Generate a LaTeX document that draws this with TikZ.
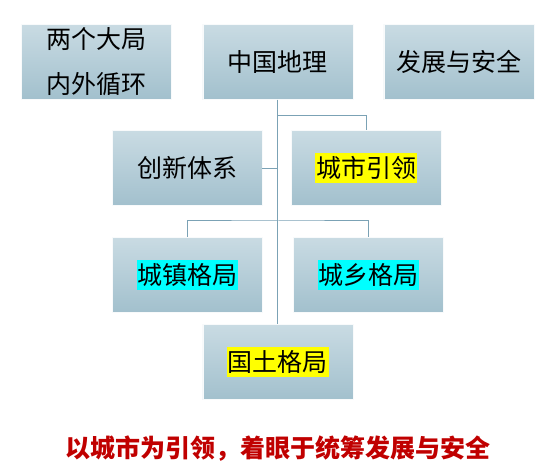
\documentclass[tikz,border=0pt]{standalone}
\usepackage{fontspec}
\newfontfamily\cjk{Noto Sans CJK SC}
\definecolor{boxtop}{HTML}{C9DBE3}
\definecolor{boxbot}{HTML}{A2C0CD}
\definecolor{conncol}{HTML}{7BA2B5}
\definecolor{titlered}{HTML}{C00000}
\definecolor{hlcyan}{HTML}{00FFFF}
\definecolor{hlyellow}{HTML}{FFFF00}
\newcommand\hlbox[2]{{\setlength{\fboxsep}{0pt}\colorbox{#1}{\hspace{0.6pt}\rule[-0.22em]{0pt}{1.2em}#2\hspace{0.6pt}}}}
\tikzset{
  mybox/.style={rectangle, minimum width=150pt, minimum height=75pt, inner sep=0pt,
    top color=boxtop, bottom color=boxbot, draw=white!92!boxbot, line width=0.8pt,
    font=\cjk\fontsize{25}{45}\selectfont, align=center, text=black},
  conn/.style={draw=conncol, line width=1pt},
  title/.style={font=\cjk\bfseries\fontsize{25}{30}\selectfont, text=titlered}
}
\begin{document}
\begin{tikzpicture}[x=1pt,y=-1pt]
\useasboundingbox (0,0) rectangle (555,465);
\node[mybox] (A) at (96.3,61.8) {两个大局\\内外循环};
\node[mybox] (B) at (277.9,61.8) {中国地理};
\node[mybox] (C) at (458.9,61.8) {发展与安全};
\node[mybox] (D) at (187,168.4) {创新体系};
\node[mybox] (E) at (366,168.4) {\hlbox{hlyellow}{城市引领}};
\node[mybox] (F) at (187.2,274.8) {\hlbox{hlcyan}{城镇格局}};
\node[mybox] (G) at (368.3,274.8) {\hlbox{hlcyan}{城乡格局}};
\node[mybox] (H) at (277.9,362.2) {\hlbox{hlyellow}{国土格局}};
\coordinate (j1) at (277.9,115.3);
\coordinate (j2) at (277.9,221);
\draw[conn] (B.south) -- (H.north);
\draw[conn] (j1) -| (E.north);
\draw[conn] (D.east) -- (D.east -| B.south);
\draw[conn] (F.north) |- (j2) -| (G.north);
\node[title] (T) at (278,449) {以城市为引领，着眼于统筹发展与安全};
\end{tikzpicture}
\end{document}
